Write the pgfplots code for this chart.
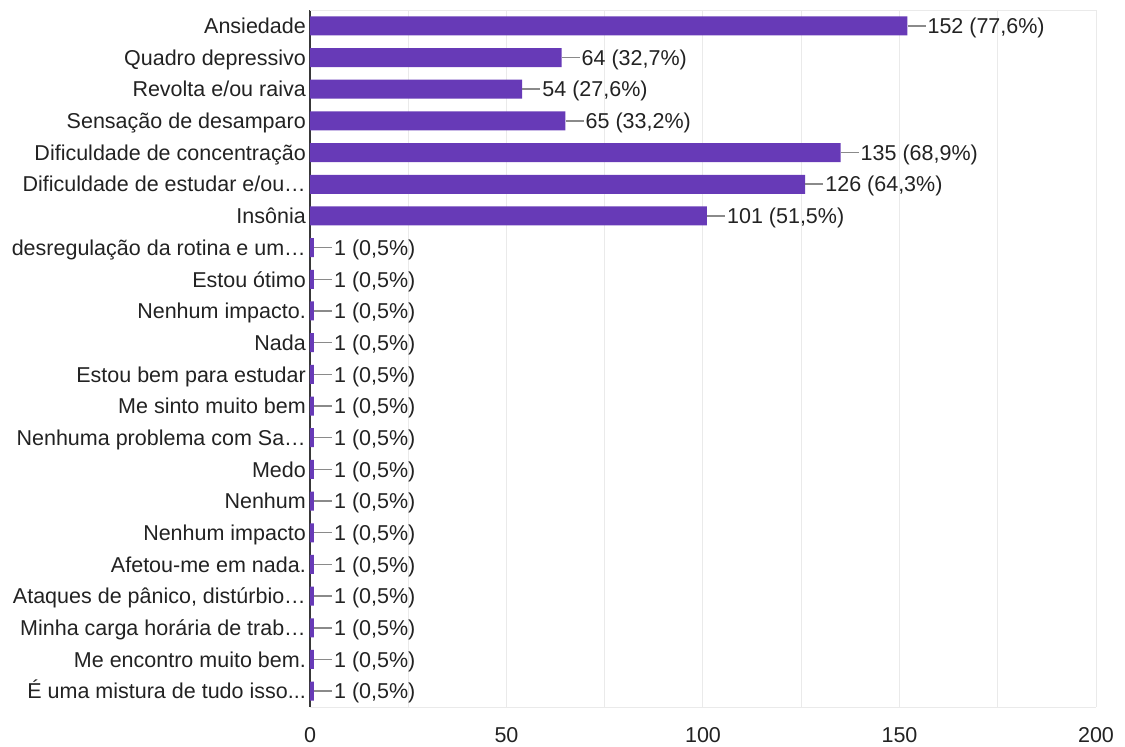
\documentclass[border=0pt]{standalone}
\usepackage{pgfplots}
\pgfplotsset{compat=1.18}
\usepackage{fontspec}
\setmainfont{Liberation Sans}
\definecolor{barpurple}{HTML}{673AB7}
\definecolor{txt}{HTML}{222222}
\definecolor{gridc}{HTML}{EAEAEA}
\definecolor{leader}{HTML}{8A8A8A}
\begin{document}
\fontsize{21.5pt}{25pt}\selectfont
\begin{tikzpicture}
\begin{axis}[
 scale only axis, width=786pt, height=697pt,
 xbar, bar width=19pt, bar shift=0pt,
 xmin=0, xmax=200, ymin=-0.5, ymax=21.5, y dir=reverse,
 xtick={0,50,100,150,200}, minor xtick={25,75,125,175},
 ytick={0,1,2,3,4,5,6,7,8,9,10,11,12,13,14,15,16,17,18,19,20,21},
 yticklabels={Ansiedade,Quadro depressivo,Revolta e/ou raiva,Sensação de desamparo,Dificuldade de concentração,Dificuldade de estudar e/ou…,Insônia,desregulação da rotina e um…,Estou ótimo,Nenhum impacto.,Nada,Estou bem para estudar,Me sinto muito bem,Nenhuma problema com Sa…,Medo,Nenhum,Nenhum impacto,Afetou-me em nada.,{Ataques de pânico, distúrbio…},Minha carga horária de trab…,Me encontro muito bem.,{É uma mistura de tudo isso.\kern0pt.\kern0pt.}},
 major tick length=0pt, minor tick length=0pt,
 xmajorgrids, xminorgrids,
 grid style={draw=gridc, line width=1pt},
 major grid style={draw=gridc, line width=1pt},
 minor grid style={draw=gridc, line width=1pt},
 axis line style={draw=none},
 extra x ticks={0}, extra x tick labels={},
 extra x tick style={grid=major, major grid style={draw=txt!90, line width=1.4pt}},
 extra y ticks={-0.5,21.5}, extra y tick labels={},
 extra y tick style={grid=major, major grid style={draw=gridc, line width=1pt}},
 tick label style={font=\fontsize{21.5pt}{25pt}\selectfont, text=txt},
 /pgf/number format/assume math mode=true,
 xticklabel style={inner sep=0pt, yshift=-20pt},
 yticklabel style={inner sep=0pt, xshift=-4pt, text height=15.4pt, text depth=0pt},
 point meta=explicit symbolic,
 nodes near coords={\textcolor{leader}{\rule[7pt]{18pt}{1.5pt}}\hspace{2pt}\pgfplotspointmeta},
 nodes near coords style={anchor=west, inner sep=0pt, text height=15.4pt, text depth=0pt, font=\fontsize{21.5pt}{25pt}\selectfont, text=txt},
 clip=false,
]
\addplot[fill=barpurple, draw=none] coordinates {
 (152,0) [{152 (77,6\%)}]
 (64,1) [{64 (32,7\%)}]
 (54,2) [{54 (27,6\%)}]
 (65,3) [{65 (33,2\%)}]
 (135,4) [{135 (68,9\%)}]
 (126,5) [{126 (64,3\%)}]
 (101,6) [{101 (51,5\%)}]
 (1,7) [{1 (0,5\%)}]
 (1,8) [{1 (0,5\%)}]
 (1,9) [{1 (0,5\%)}]
 (1,10) [{1 (0,5\%)}]
 (1,11) [{1 (0,5\%)}]
 (1,12) [{1 (0,5\%)}]
 (1,13) [{1 (0,5\%)}]
 (1,14) [{1 (0,5\%)}]
 (1,15) [{1 (0,5\%)}]
 (1,16) [{1 (0,5\%)}]
 (1,17) [{1 (0,5\%)}]
 (1,18) [{1 (0,5\%)}]
 (1,19) [{1 (0,5\%)}]
 (1,20) [{1 (0,5\%)}]
 (1,21) [{1 (0,5\%)}]
};
\path (axis cs:0,21.5) ++(-310pt,-40pt) rectangle ++(1125pt,747pt);
\end{axis}
\end{tikzpicture}
\end{document}
